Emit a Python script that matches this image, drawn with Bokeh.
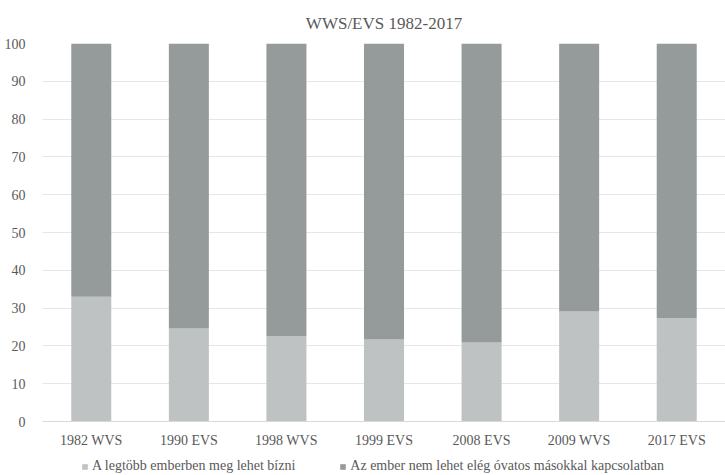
from bokeh.plotting import figure
from bokeh.layouts import column
from bokeh.models import Range1d, SingleIntervalTicker, Legend, LegendItem
from bokeh.embed import file_html
from bokeh.resources import INLINE

categories = ["1982 WVS", "1990 EVS", "1998 WVS", "1999 EVS", "2008 EVS", "2009 WVS", "2017 EVS"]
trust = [33.0, 24.6, 22.6, 21.7, 20.9, 29.1, 27.3]
careful = [67.0, 75.4, 77.4, 78.3, 79.1, 70.9, 72.7]
series_names = ["A legtöbb emberben meg lehet bízni",
                "Az ember nem lehet elég óvatos másokkal kapcsolatban"]
colors = ["#bfc2c2", "#959a9a"]

FONT = "Liberation Serif"
TXT = "#595959"

p = figure(x_range=categories, y_range=Range1d(0, 100),
           width=725, height=450,
           output_backend="svg", toolbar_location=None,
           title="WWS/EVS 1982-2017")
p.min_border_left = 42
p.min_border_right = 0
p.min_border_top = 43
p.min_border_bottom = 25
p.outline_line_color = None

p.title.align = "center"
p.title.text_font = FONT
p.title.text_font_size = "17px"
p.title.text_font_style = "normal"
p.title.text_color = TXT
p.title.standoff = 21

data = {"cat": categories, "trust": trust, "careful": careful}
rs = p.vbar_stack(["trust", "careful"], x="cat", width=0.41, color=colors,
                  line_color=None, source=data)

p.yaxis.ticker = SingleIntervalTicker(interval=10)
p.yaxis.axis_line_color = None
p.yaxis.major_tick_line_color = None
p.yaxis.minor_tick_line_color = None
p.yaxis.major_label_text_font = FONT
p.yaxis.major_label_text_font_size = "14px"
p.yaxis.major_label_text_color = TXT
p.yaxis.major_label_standoff = 11

p.xaxis.axis_line_color = "#d9d9d9"
p.xaxis.major_tick_line_color = None
p.xaxis.major_label_text_font = FONT
p.xaxis.major_label_text_font_size = "14px"
p.xaxis.major_label_text_color = TXT
p.xaxis.major_label_standoff = 5

p.xgrid.grid_line_color = None
p.ygrid.grid_line_color = "#e6e6e6"
p.ygrid.ticker = SingleIntervalTicker(interval=10)

# legend strip below the chart
lg = figure(width=725, height=25, x_range=Range1d(0, 1), y_range=Range1d(0, 1),
            output_backend="svg", toolbar_location=None)
lg.min_border_left = 0
lg.min_border_right = 0
lg.min_border_top = 0
lg.min_border_bottom = 0
lg.outline_line_color = None
lg.axis.visible = False
lg.grid.visible = False
offscreen = {"x": [5], "top": [1]}
r1 = lg.vbar(x="x", top="top", width=0.5, color=colors[0], line_color=None, source=offscreen)
r2 = lg.vbar(x="x", top="top", width=0.5, color=colors[1], line_color=None, source=offscreen)

legend = Legend(items=[LegendItem(label=series_names[0], renderers=[r1]),
                       LegendItem(label=series_names[1], renderers=[r2])],
                orientation="horizontal", location=(39, 1),
                border_line_color=None, background_fill_alpha=0,
                glyph_width=7, glyph_height=7,
                label_text_font=FONT, label_text_font_size="14px",
                label_text_color=TXT, spacing=44, padding=0, margin=0,
                label_standoff=4, label_height=14)
lg.add_layout(legend)

layout = column(p, lg, spacing=0)
open("out.html", "w").write(file_html(layout, INLINE))
